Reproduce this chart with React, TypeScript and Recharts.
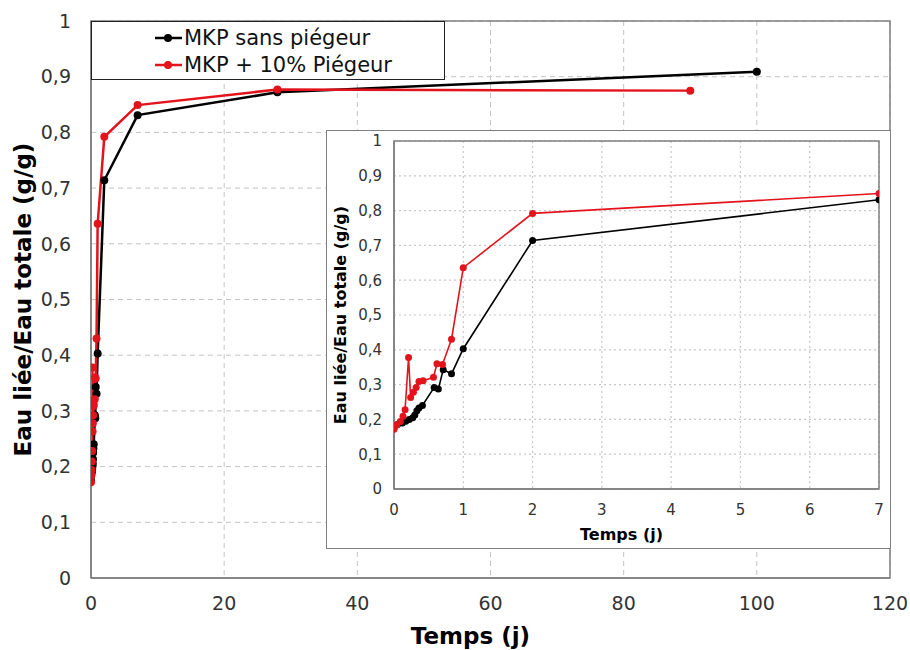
import React from "react";
import { LineChart, Line, XAxis, YAxis, CartesianGrid, ReferenceArea, Label } from "recharts";

// ---- data (temps en jours, rapport eau liée / eau totale) ----
const blackTimes = [0, 0.05, 0.12, 0.17, 0.22, 0.27, 0.3, 0.33, 0.36, 0.41, 0.58, 0.64, 0.71, 0.83, 1, 2, 7, 28, 100];
const blackValues = [0.175, 0.185, 0.19, 0.195, 0.2, 0.205, 0.213, 0.225, 0.233, 0.24, 0.292, 0.287, 0.343, 0.331, 0.403, 0.714, 0.831, 0.872, 0.909];
const redTimes = [0, 0.04, 0.09, 0.13, 0.16, 0.21, 0.24, 0.28, 0.32, 0.36, 0.42, 0.57, 0.62, 0.7, 0.83, 1, 2, 7, 28, 90];
const redValues = [0.172, 0.184, 0.194, 0.209, 0.228, 0.378, 0.263, 0.278, 0.292, 0.309, 0.311, 0.321, 0.36, 0.358, 0.43, 0.636, 0.792, 0.849, 0.877, 0.875];

const seriesNames = ["MKP sans piégeur", "MKP + 10% Piégeur"];
const mainXTicks = [0, 20, 40, 60, 80, 100, 120];
const insetXTicks = [0, 1, 2, 3, 4, 5, 6, 7];
const yTicks = [0, 0.1, 0.2, 0.3, 0.4, 0.5, 0.6, 0.7, 0.8, 0.9, 1];
const xTitle = "Temps (j)";
const yTitle = "Eau liée/Eau totale (g/g)";

const blackData = blackTimes.map((t, i) => ({ t, v: blackValues[i] }));
const redData = redTimes.map((t, i) => ({ t, v: redValues[i] }));
const insetMax = insetXTicks[insetXTicks.length - 1];
const blackInset = blackData.filter((d) => d.t <= insetMax);
const redInset = redData.filter((d) => d.t <= insetMax);

const FONT = "'DejaVu Sans', sans-serif";
const BLACK = "#000000";
const RED = "#e3131b";
const AXIS = "#7f7f7f";
const fmt = (v: number) => String(v).replace(".", ",");

const xTitleContent = (size: number, dx: number, dy: number) => (props: any) => {
  const vb = props.viewBox || {};
  return (
    <text
      x={vb.x + vb.width / 2 + dx}
      y={vb.y + dy}
      textAnchor="middle"
      dominantBaseline="central"
      fontFamily={FONT}
      fontWeight="bold"
      fontSize={size}
      fill="#000"
    >
      {xTitle}
    </text>
  );
};

const yTitleContent = (size: number, dx: number) => (props: any) => {
  const vb = props.viewBox || {};
  const cx = vb.x + dx;
  const cy = vb.y + vb.height / 2;
  return (
    <text
      x={cx}
      y={cy}
      transform={`rotate(-90 ${cx} ${cy})`}
      textAnchor="middle"
      dominantBaseline="central"
      fontFamily={FONT}
      fontWeight="bold"
      fontSize={size}
      fill="#000"
    >
      {yTitle}
    </text>
  );
};

function LegendMarker({ color }: { color: string }) {
  return (
    <svg width={27} height={12} style={{ display: "block", marginRight: 2 }}>
      <line x1={0} y1={6} x2={27} y2={6} stroke={color} strokeWidth={2.5} />
      <circle cx={13} cy={6} r={4} fill={color} />
    </svg>
  );
}

export default function App() {
  return (
    <div style={{ position: "absolute", left: 0, top: 0, width: 910, height: 650, background: "#fff" }}>
      <LineChart width={910} height={650} margin={{ top: 21, right: 20, bottom: 5, left: 10 }}>
        <CartesianGrid stroke="#c4c4c4" strokeDasharray="5 4" strokeWidth={1} />
        <XAxis
          dataKey="t"
          type="number"
          domain={[0, 120]}
          ticks={mainXTicks}
          allowDataOverflow
          height={67}
          tickLine={false}
          tickSize={0}
          tickMargin={19}
          axisLine={{ stroke: AXIS, strokeWidth: 1.5 }}
          tick={{ fontFamily: FONT, fontSize: 19, fill: "#333" }}
        >
          <Label content={xTitleContent(23, -20, 58)} />
        </XAxis>
        <YAxis
          type="number"
          domain={[0, 1]}
          ticks={yTicks}
          width={81}
          tickLine={false}
          tickSize={0}
          tickMargin={20}
          tickFormatter={fmt}
          axisLine={{ stroke: AXIS, strokeWidth: 1.5 }}
          tick={{ fontFamily: FONT, fontSize: 19, fill: "#333" }}
        >
          <Label content={yTitleContent(23, 13)} />
        </YAxis>
        <ReferenceArea x1={0} x2={120} y1={0} y2={1} fill="none" stroke={AXIS} strokeWidth={1.5} />
        <Line
          data={blackData}
          dataKey="v"
          name={seriesNames[0]}
          type="linear"
          stroke={BLACK}
          strokeWidth={2.5}
          dot={{ r: 4, fill: BLACK, stroke: BLACK, strokeWidth: 0 }}
          isAnimationActive={false}
        />
        <Line
          data={redData}
          dataKey="v"
          name={seriesNames[1]}
          type="linear"
          stroke={RED}
          strokeWidth={2.5}
          dot={{ r: 4, fill: RED, stroke: RED, strokeWidth: 0 }}
          isAnimationActive={false}
        />
      </LineChart>

      {/* legend */}
      <div
        style={{
          position: "absolute",
          left: 91,
          top: 21,
          width: 354,
          height: 59,
          boxSizing: "border-box",
          border: "1.5px solid #222",
          background: "#fff",
          fontFamily: FONT,
          fontSize: 21,
          color: "#111",
          paddingLeft: 63,
          paddingTop: 2,
        }}
      >
        {[BLACK, RED].map((c, i) => (
          <div key={i} style={{ display: "flex", alignItems: "center", height: 27 }}>
            <LegendMarker color={c} />
            <span style={{ whiteSpace: "nowrap" }}>{seriesNames[i]}</span>
          </div>
        ))}
      </div>

      {/* inset */}
      <div
        style={{
          position: "absolute",
          left: 327,
          top: 131,
          width: 563,
          height: 417,
          background: "#fff",
          outline: `1.5px solid ${AXIS}`,
        }}
      >
        <LineChart width={563} height={417} margin={{ top: 10, right: 11, bottom: 0, left: 0 }}>
          <CartesianGrid stroke="#c8c8c8" strokeDasharray="2 3" strokeWidth={1.2} />
          <XAxis
            dataKey="t"
            type="number"
            domain={[0, 7]}
            ticks={insetXTicks}
            allowDataOverflow
            height={59}
            tickLine={false}
            tickSize={0}
            tickMargin={15}
            axisLine={{ stroke: AXIS, strokeWidth: 1.5 }}
            tick={{ fontFamily: FONT, fontSize: 15, fill: "#333" }}
          >
            <Label content={xTitleContent(16, -15, 45)} />
          </XAxis>
          <YAxis
            type="number"
            domain={[0, 1]}
            ticks={yTicks}
            width={67}
            tickLine={false}
            tickSize={0}
            tickMargin={12}
            tickFormatter={fmt}
            axisLine={{ stroke: AXIS, strokeWidth: 1.5 }}
            tick={{ fontFamily: FONT, fontSize: 15, fill: "#333" }}
          >
            <Label content={yTitleContent(16, 13)} />
          </YAxis>
          <ReferenceArea x1={0} x2={7} y1={0} y2={1} fill="none" stroke={AXIS} strokeWidth={1.5} />
          <Line
            data={blackInset}
            dataKey="v"
            name={seriesNames[0]}
            type="linear"
            stroke={BLACK}
            strokeWidth={1.6}
            dot={{ r: 3.5, fill: BLACK, stroke: BLACK, strokeWidth: 0 }}
            isAnimationActive={false}
          />
          <Line
            data={redInset}
            dataKey="v"
            name={seriesNames[1]}
            type="linear"
            stroke={RED}
            strokeWidth={1.6}
            dot={{ r: 3.5, fill: RED, stroke: RED, strokeWidth: 0 }}
            isAnimationActive={false}
          />
        </LineChart>
      </div>
    </div>
  );
}
